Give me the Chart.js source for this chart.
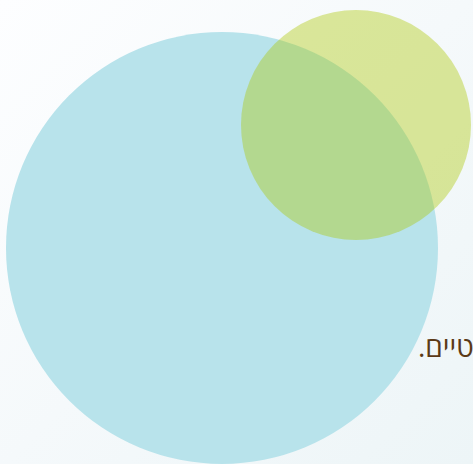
<!DOCTYPE html>
<html lang="he">
<head>
<meta charset="utf-8">
<script src="https://cdn.jsdelivr.net/npm/chart.js@4"></script>
<style>
  html, body { margin: 0; padding: 0; overflow: hidden; }
  body {
    width: 473px; height: 464px;
    background: linear-gradient(135deg, #fdfeff 0%, #f5f9fb 50%, #edf5f7 100%);
    position: relative;
  }
  #wrap { position: absolute; left: 0; top: 0; width: 473px; height: 464px; }
  #note {
    position: absolute; left: 418px; top: 332px;
    font-family: "Open Sans", sans-serif; font-size: 28px; line-height: 28px;
    color: #5b3a17; white-space: nowrap; direction: rtl; unicode-bidi: plaintext;
  }
</style>
</head>
<body>
<div id="note">טיים.</div>
<div id="wrap"><canvas id="venn"></canvas></div>
<script>
// two overlapping sets, positions and radii in canvas units
const setNames = ['A', 'B'];
const setX = [222, 356];
const setY = [248, 125];
const setR = [216, 115];
const setColors = ['rgb(184, 227, 235)', 'rgba(172, 199, 6, 0.4)'];
const setOrder = [1, 0];

// bubbles would otherwise shrink the chart area by the biggest radius
Chart.registry.getController('bubble').prototype.getMaxOverflow = function () { return 0; };

const ctx = document.getElementById('venn').getContext('2d');

new Chart(ctx, {
    type: 'bubble',
    data: {
        datasets: setNames.map((name, i) => ({
            label: name,
            data: [{ x: setX[i], y: setY[i], r: setR[i] }],
            backgroundColor: setColors[i],
            hoverBackgroundColor: setColors[i],
            borderWidth: 0,
            hoverBorderWidth: 0,
            hoverRadius: 0,
            order: setOrder[i],
            clip: false
        }))
    },
    options: {
        responsive: true,
        maintainAspectRatio: false,
        animation: false,
        events: [],
        layout: { padding: 0 },
        scales: {
            x: { type: 'linear', min: 0, max: 473, display: false },
            y: { type: 'linear', min: 0, max: 464, reverse: true, display: false }
        },
        plugins: {
            legend: { display: false },
            tooltip: { enabled: false }
        }
    }
});
</script>
</body>
</html>
